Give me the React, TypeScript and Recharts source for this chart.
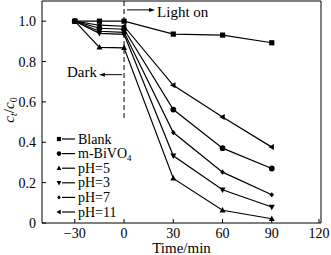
import { LineChart, Line, XAxis, YAxis, ReferenceLine, Legend, Label } from "recharts";

const times = [-30, -15, 0, 30, 60, 90];
const blank = [1.0, 1.0, 1.0, 0.936, 0.931, 0.893];
const mBiVO4 = [1.0, 0.965, 0.96, 0.562, 0.371, 0.27];
const pH5 = [1.0, 0.87, 0.868, 0.221, 0.063, 0.021];
const pH3 = [1.0, 0.94, 0.935, 0.333, 0.165, 0.079];
const pH7 = [1.0, 0.95, 0.945, 0.448, 0.252, 0.14];
const pH11 = [1.0, 0.98, 0.975, 0.682, 0.525, 0.376];

const xTicks = [-30, 0, 30, 60, 90, 120];
const yTicks = [0, 0.2, 0.4, 0.6, 0.8, 1.0];

const SERIES = [
  { key: "blank", name: "Blank", values: blank, marker: "square" },
  { key: "mBiVO4", name: "m-BiVO4", values: mBiVO4, marker: "circle" },
  { key: "pH5", name: "pH=5", values: pH5, marker: "up" },
  { key: "pH3", name: "pH=3", values: pH3, marker: "down" },
  { key: "pH7", name: "pH=7", values: pH7, marker: "diamond" },
  { key: "pH11", name: "pH=11", values: pH11, marker: "left" },
];

const data = times.map((t, i) => {
  const row: Record<string, number> = { t };
  SERIES.forEach((s) => (row[s.key] = s.values[i]));
  return row;
});

const FONT = "Liberation Serif, Times New Roman, serif";

function Marker({ type, cx, cy, k = 1 }: { type: string; cx: number; cy: number; k?: number }) {
  switch (type) {
    case "square":
      return <rect x={cx - 2.6 * k} y={cy - 2.6 * k} width={5.2 * k} height={5.2 * k} fill="#000" />;
    case "circle":
      return <circle cx={cx} cy={cy} r={2.9 * k} fill="#000" />;
    case "up":
      return <polygon points={`${cx},${cy - 3.3 * k} ${cx + 3 * k},${cy + 2.2 * k} ${cx - 3 * k},${cy + 2.2 * k}`} fill="#000" />;
    case "down":
      return <polygon points={`${cx},${cy + 3.3 * k} ${cx + 3 * k},${cy - 2.2 * k} ${cx - 3 * k},${cy - 2.2 * k}`} fill="#000" />;
    case "diamond":
      return <polygon points={`${cx},${cy - 2.6 * k} ${cx + 2.3 * k},${cy} ${cx},${cy + 2.6 * k} ${cx - 2.3 * k},${cy}`} fill="#000" />;
    default:
      return <polygon points={`${cx - 3.3 * k},${cy} ${cx + 2.2 * k},${cy - 3 * k} ${cx + 2.2 * k},${cy + 3 * k}`} fill="#000" />;
  }
}

function XTick({ x, y, payload }: any) {
  const v = payload.value < 0 ? `\u2212${Math.abs(payload.value)}` : `${payload.value}`;
  return (
    <g>
      <line x1={x} x2={x} y1={y} y2={y - 4} stroke="#000" />
      <text x={x} y={y + 15} textAnchor="middle" fontSize={14} fontFamily={FONT} fill="#000">
        {v}
      </text>
    </g>
  );
}

function YTick({ x, y, payload }: any) {
  const v = payload.value === 0 ? "0" : payload.value.toFixed(1);
  return (
    <g>
      <line x1={x} x2={x + 4} y1={y} y2={y} stroke="#000" />
      <text x={x - 6} y={y + 5} textAnchor="end" fontSize={14} fontFamily={FONT} fill="#000">
        {v}
      </text>
    </g>
  );
}

function ArrowRight(props: any) {
  const { x1, y1, x2 } = props;
  return (
    <g>
      <line x1={x1} x2={x2 - 4} y1={y1} y2={y1} stroke="#000" strokeWidth={1} />
      <polygon points={`${x2},${y1} ${x2 - 6},${y1 - 2} ${x2 - 6},${y1 + 2}`} fill="#000" />
      <text x={x2 + 2} y={y1 + 7.5} fontSize={15} fontFamily={FONT} fill="#000">
        Light on
      </text>
    </g>
  );
}

function ArrowLeft(props: any) {
  const { x1, y1, x2 } = props;
  return (
    <g>
      <line x1={x1} x2={x2 + 4} y1={y1} y2={y1} stroke="#000" strokeWidth={1} />
      <polygon points={`${x2},${y1} ${x2 + 6},${y1 - 2} ${x2 + 6},${y1 + 2}`} fill="#000" />
      <text x={x2 - 2} y={y1 + 2.5} textAnchor="end" fontSize={15} fontFamily={FONT} fill="#000">
        Dark
      </text>
    </g>
  );
}

function LegendBox() {
  return (
    <svg width={90} height={92} style={{ display: "block" }}>
      {SERIES.map((s, i) => {
        const cy = 8 + i * 14.6;
        return (
          <g key={s.key}>
            <Marker type={s.marker} cx={7} cy={cy} k={0.8} />
            <line x1={10} x2={23} y1={cy} y2={cy} stroke="#000" strokeWidth={1.2} />
            <text x={26} y={cy + 4.5} fontSize={14} fontFamily={FONT} fill="#000">
              {s.key === "mBiVO4" ? (
                <>
                  m-BiVO<tspan fontSize={9} dy={3}>4</tspan>
                </>
              ) : (
                s.name
              )}
            </text>
          </g>
        );
      })}
    </svg>
  );
}

export default function App() {
  return (
    <div style={{ position: "absolute", left: 0, top: 0, width: 331, height: 255, background: "#fff" }}>
      <LineChart width={331} height={255} data={data} margin={{ top: 1, right: 10, bottom: 2, left: 0 }}>
        <XAxis
          dataKey="t"
          type="number"
          domain={[-50, 120]}
          ticks={xTicks}
          height={30}
          tickSize={0}
          tickMargin={0}
          tick={<XTick />}
          axisLine={{ stroke: "#000" }}
          tickLine={false}
        >
          <Label
            content={() => (
              <text x={181.5} y={253} textAnchor="middle" fontSize={15} fontFamily={FONT} fill="#000">
                Time/min
              </text>
            )}
          />
        </XAxis>
        <YAxis
          type="number"
          domain={[0, 1.1]}
          ticks={yTicks}
          width={42}
          tickSize={0}
          tickMargin={0}
          tick={<YTick />}
          axisLine={{ stroke: "#000" }}
          tickLine={false}
        >
          <Label
            content={() => (
              <text
                x={14}
                y={110}
                transform="rotate(-90, 14, 110)"
                textAnchor="middle"
                fontSize={15}
                fontFamily={FONT}
                fill="#000"
              >
                <tspan fontStyle="italic">c</tspan>
                <tspan fontStyle="italic" fontSize={10} dy={3}>t</tspan>
                <tspan dy={-3}>/</tspan>
                <tspan fontStyle="italic">c</tspan>
                <tspan fontSize={10} dy={3}>0</tspan>
              </text>
            )}
          />
        </YAxis>
        <ReferenceLine y={1.1} stroke="#000" />
        <ReferenceLine x={120} stroke="#000" />
        <ReferenceLine
          segment={[
            { x: 0, y: 1.1 },
            { x: 0, y: 0.52 },
          ]}
          stroke="#000"
          strokeDasharray="5 3"
        />
        <ReferenceLine
          segment={[
            { x: 1.8, y: 1.056 },
            { x: 18.9, y: 1.056 },
          ]}
          shape={ArrowRight}
        />
        <ReferenceLine
          segment={[
            { x: -1.2, y: 0.735 },
            { x: -15.3, y: 0.735 },
          ]}
          shape={ArrowLeft}
        />
        {SERIES.map((s) => (
          <Line
            key={s.key}
            dataKey={s.key}
            name={s.name}
            stroke="#000"
            strokeWidth={1.2}
            isAnimationActive={false}
            dot={(p: any) => <Marker key={`${s.key}-${p.index}`} type={s.marker} cx={p.cx} cy={p.cy} />}
            activeDot={false}
          />
        ))}
        <Legend
          layout="vertical"
          align="center"
          verticalAlign="middle"
          wrapperStyle={{ left: 52, top: 131, width: 90, height: 92 }}
          content={() => <LegendBox />}
        />
      </LineChart>
    </div>
  );
}
